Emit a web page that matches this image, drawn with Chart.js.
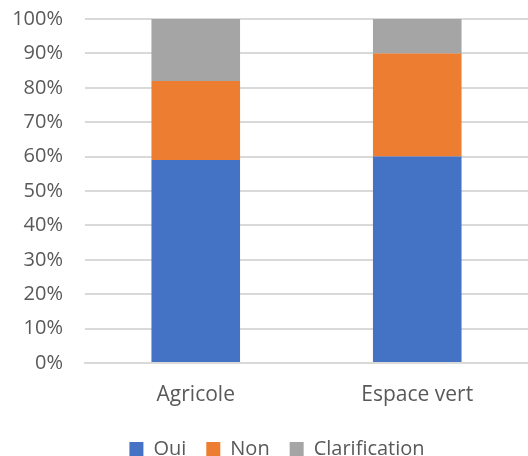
<!DOCTYPE html>
<html>
<head>
<meta charset="utf-8">
<script src="https://cdn.jsdelivr.net/npm/chart.js"></script>
<style>
  body { margin: 0; background: #fff; }
  #wrap { width: 528px; height: 456px; }
</style>
</head>
<body>
<div id="wrap"><canvas id="chart"></canvas></div>
<script>
// Data
const categories = ['Agricole', 'Espace vert'];
const oui = [59, 60];
const non = [23, 30];
const clarification = [18, 10];
const yTicks = [0, 10, 20, 30, 40, 50, 60, 70, 80, 90, 100];

const font = "'Open Sans', 'Liberation Sans', sans-serif";
const textColor = '#595959';

// keep the legend strip short and nudge it, like the original
const legendTweak = {
    id: 'legendTweak',
    beforeUpdate(chart) {
        const legend = chart.legend;
        if (legend && !legend._patched) {
            const fit = legend.fit;
            legend.fit = function () {
                fit.call(this);
                this.height = 42;
            };
            const draw = legend.draw;
            legend.draw = function () {
                const c = this.ctx;
                c.save();
                c.translate(13, 5);
                draw.call(this);
                c.restore();
            };
            legend._patched = true;
        }
    }
};

const ctx = document.getElementById('chart').getContext('2d');
new Chart(ctx, {
    type: 'bar',
    data: {
        labels: categories,
        datasets: [
            { label: 'Oui', data: oui, backgroundColor: '#4472C4' },
            { label: 'Non', data: non, backgroundColor: '#ED7D31' },
            { label: 'Clarification', data: clarification, backgroundColor: '#A5A5A5' }
        ]
    },
    options: {
        responsive: true,
        maintainAspectRatio: false,
        animation: false,
        layout: { padding: { left: 0, right: 0, top: 19, bottom: 0 } },
        datasets: { bar: { categoryPercentage: 1, barPercentage: 0.4 } },
        scales: {
            x: {
                stacked: true,
                grid: { display: false },
                border: { color: '#d9d9d9', width: 2 },
                ticks: { color: textColor, font: { family: font, size: 21 }, padding: 11 },
                afterFit: axis => { axis.height = 51; }
            },
            y: {
                stacked: true,
                min: 0,
                max: 100,
                afterBuildTicks: axis => { axis.ticks = yTicks.map(v => ({ value: v })); },
                afterFit: axis => {
                    axis.width = 85;
                    axis.paddingTop = 0;
                    axis.paddingBottom = 0;
                },
                grid: { color: '#d9d9d9', lineWidth: 2, drawTicks: false },
                border: { display: false },
                ticks: {
                    color: textColor,
                    font: { family: font, size: 20 },
                    padding: 22,
                    callback: v => v + '%'
                }
            }
        },
        plugins: {
            tooltip: { enabled: false },
            legend: {
                position: 'bottom',
                labels: {
                    color: textColor,
                    font: { family: font, size: 20 },
                    boxWidth: 14,
                    boxHeight: 14,
                    padding: 20
                }
            }
        }
    },
    plugins: [legendTweak]
});
</script>
</body>
</html>
